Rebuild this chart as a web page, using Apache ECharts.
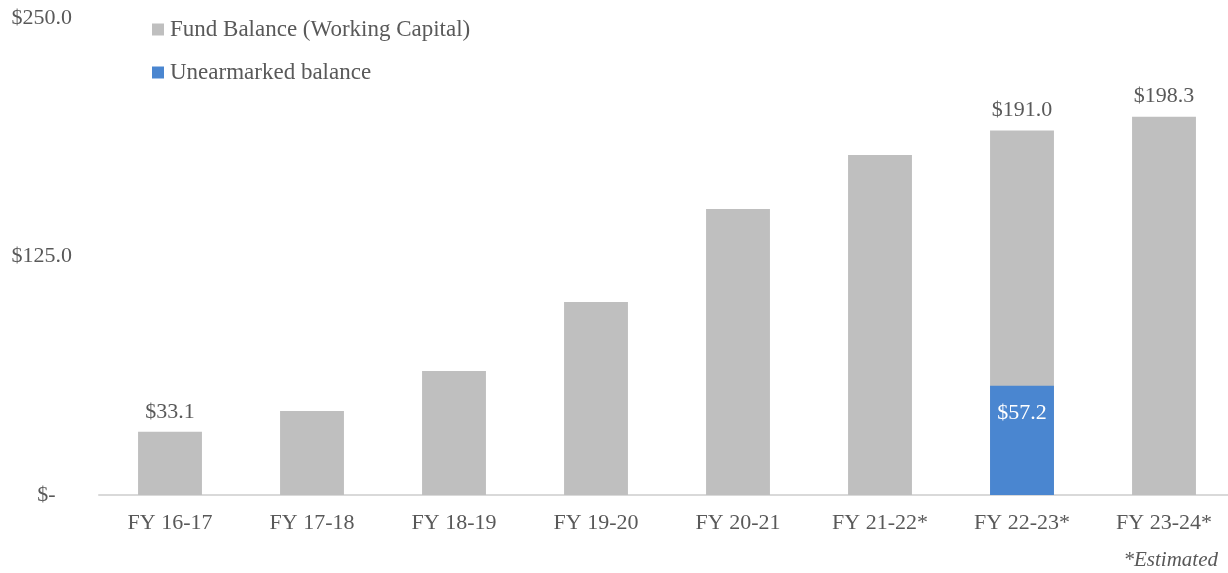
<!DOCTYPE html>
<html>
<head>
<meta charset="utf-8">
<script src="https://cdn.jsdelivr.net/npm/echarts@6/dist/echarts.min.js"></script>
<style>
  html, body { margin: 0; padding: 0; background: #fff; }
  #chart-panel { width: 1228px; height: 573px; }
</style>
</head>
<body>
<div id="chart-panel"></div>
<script>
// categories and values
let years = ['FY 16-17', 'FY 17-18', 'FY 18-19', 'FY 19-20', 'FY 20-21', 'FY 21-22*', 'FY 22-23*', 'FY 23-24*']
let fundBalance = [33.1, 44.0, 65.0, 101.2, 149.9, 178.2, 191.0, 198.3]
let unearmarked = [null, null, null, null, null, null, 57.2, null]
// which fund balance bars carry a value label
let labelledYears = ['FY 16-17', 'FY 22-23*', 'FY 23-24*']

let FONT = '"Liberation Serif", "DejaVu Serif", serif'
let TEXT = '#595959'

/* money formatter, e.g. $191.0 */
function money(v) {
    return '$' + Number(v).toFixed(1)
}

let myChart = echarts.init(document.getElementById('chart-panel'))
myChart.setOption({
    animation: false,
    textStyle: { fontFamily: FONT, color: TEXT },
    grid: { left: 99, width: 1136, top: 18, height: 477, containLabel: false, outerBoundsMode: 'none' },
    legend: {
        orient: 'vertical',
        left: 152,
        top: 18,
        padding: 0,
        itemGap: 20,
        itemWidth: 12,
        itemHeight: 12,
        icon: 'rect',
        textStyle: { fontFamily: FONT, color: TEXT, fontSize: 23, padding: [0, 0, 0, 1] },
        data: ['Fund Balance (Working Capital)', 'Unearmarked balance']
    },
    xAxis: {
        type: 'category',
        data: years,
        axisLine: { lineStyle: { color: '#D9D9D9', width: 2 } },
        axisTick: { show: false },
        axisLabel: { fontFamily: FONT, color: TEXT, fontSize: 22, margin: 17 }
    },
    yAxis: {
        type: 'value',
        min: 0,
        max: 250,
        interval: 125,
        splitLine: { show: false },
        axisLine: { show: false },
        axisTick: { show: false },
        axisLabel: {
            fontFamily: FONT, color: TEXT, fontSize: 22, margin: 27,
            formatter: function (v) { return v === 0 ? '$-   ' : money(v) }
        }
    },
    series: [
        {
            name: 'Fund Balance (Working Capital)',
            type: 'bar',
            barWidth: '45%',
            barGap: '-100%',
            itemStyle: { color: '#BFBFBF' },
            data: fundBalance.map(function (v, i) {
                return {
                    value: v,
                    label: {
                        show: labelledYears.indexOf(years[i]) >= 0,
                        position: 'top',
                        distance: 9,
                        fontFamily: FONT,
                        fontSize: 22,
                        color: TEXT,
                        formatter: function (p) { return money(p.value) }
                    }
                }
            })
        },
        {
            name: 'Unearmarked balance',
            type: 'bar',
            barWidth: '45%',
            itemStyle: { color: '#4A86D0' },
            label: {
                show: true,
                position: 'insideTop',
                distance: 16,
                fontFamily: FONT,
                fontSize: 22,
                color: '#FFFFFF',
                formatter: function (p) { return money(p.value) }
            },
            data: unearmarked
        }
    ],
    graphic: [
        {
            type: 'text',
            right: 10,
            bottom: 2,
            style: {
                text: '*Estimated',
                font: 'italic 21px ' + FONT,
                fill: TEXT
            }
        }
    ]
})
</script>
</body>
</html>
